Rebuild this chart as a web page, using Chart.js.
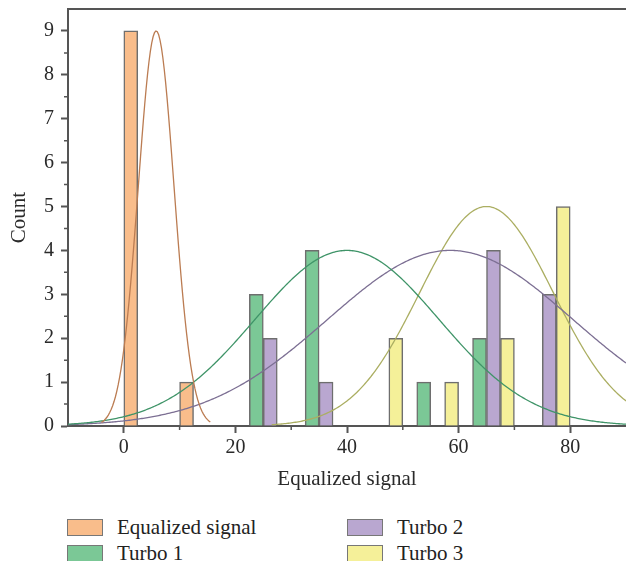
<!DOCTYPE html>
<html>
<head>
<meta charset="utf-8">
<script src="https://cdn.jsdelivr.net/npm/chart.js@4/dist/chart.umd.min.js"></script>
<style>
  body { margin: 0; background: #fff; width: 626px; height: 561px; overflow: hidden; font-family: "Liberation Serif", serif; }
  #wrap { position: relative; width: 626px; height: 500px; }
  #legend { position: relative; width: 626px; height: 61px; }
  .item { position: absolute; display: flex; align-items: center; font-size: 21px; color: #222; line-height: 17px; }
  .swatch { box-sizing: border-box; width: 36px; height: 17px; border: 1.5px solid #777; margin-right: 14px; }
</style>
</head>
<body>
<div id="wrap"><canvas id="chart" width="626" height="500"></canvas></div>
<div id="legend"></div>
<script>
// histogram bins (centre of each 10-wide bin)
const binCenters = [5, 15, 25, 35, 45, 55, 65, 75];
const seriesNames = ["Equalized signal", "Turbo 1", "Turbo 2", "Turbo 3"];
const equalizedCounts = [9, 1, null, null, null, null, null, null];
const turbo1Counts = [null, null, 3, 4, null, 1, 2, null];
const turbo2Counts = [null, null, 2, 1, null, null, 4, 3];
const turbo3Counts = [null, null, null, null, 2, 1, 2, 5];

// normal fit curves: mean, sd, peak, drawn range
const fitMean = [5.8, 40, 58.5, 65];
const fitSd = [3.2, 16.5, 22, 12];
const fitPeak = [9, 4, 4, 5];
const fitFrom = [-4, -10, -10, 26.5];
const fitTo = [15.5, 90, 90, 90];

const xTicks = [0, 20, 40, 60, 80];
const xMinorTicks = [10, 30, 50, 70];
const yTicks = [0, 1, 2, 3, 4, 5, 6, 7, 8, 9];
const yMinorTicks = [0.5, 1.5, 2.5, 3.5, 4.5, 5.5, 6.5, 7.5, 8.5];

const fillColors = ["#f9bd8b", "#7bc896", "#b9a7d0", "#f5f099"];
const lineColors = ["#bb7c52", "#3f9468", "#7c6f93", "#abae62"];

const counts = [equalizedCounts, turbo1Counts, turbo2Counts, turbo3Counts];
const axisColor = "#555";
const textColor = "#2a2a2a";
const font = { family: "Liberation Serif", size: 20 };
const titleFont = { family: "Liberation Serif", size: 21 };

function fitPoints(i) {
  const pts = [];
  for (let x = fitFrom[i]; x <= fitTo[i] + 1e-9; x += 0.25) {
    const z = (x - fitMean[i]) / fitSd[i];
    pts.push({ x: x, y: fitPeak[i] * Math.exp(-0.5 * z * z) });
  }
  return pts;
}

const datasets = [];
counts.forEach((c, i) => {
  datasets.push({
    type: "bar",
    label: seriesNames[i],
    data: binCenters.map((x, k) => ({ x: x, y: c[k] })),
    backgroundColor: fillColors[i],
    borderColor: "#6e6e6e",
    borderWidth: 1.5,
    barPercentage: 1,
    categoryPercentage: 1,
    order: 2,
  });
});
counts.forEach((c, i) => {
  datasets.push({
    type: "line",
    label: seriesNames[i] + " fit",
    data: fitPoints(i),
    borderColor: lineColors[i],
    borderWidth: 1.3,
    pointRadius: 0,
    tension: 0,
    order: 1,
  });
});

// minor ticks + top frame line
const minorTicks = {
  id: "minorTicks",
  afterDraw(chart) {
    const { ctx, chartArea, scales } = chart;
    ctx.save();
    ctx.strokeStyle = axisColor;
    ctx.lineWidth = 1.5;
    ctx.beginPath();
    xMinorTicks.forEach((v) => {
      const px = scales.x.getPixelForValue(v);
      ctx.moveTo(px, chartArea.bottom);
      ctx.lineTo(px, chartArea.bottom + 4);
    });
    yMinorTicks.forEach((v) => {
      const py = scales.y.getPixelForValue(v);
      ctx.moveTo(chartArea.left, py);
      ctx.lineTo(chartArea.left - 4, py);
    });
    ctx.stroke();
    ctx.lineWidth = 2;
    ctx.beginPath();
    ctx.moveTo(chartArea.left, chartArea.top);
    ctx.lineTo(chartArea.right, chartArea.top);
    ctx.stroke();
    ctx.restore();
  },
};

new Chart(document.getElementById("chart"), {
  type: "bar",
  data: { datasets: datasets },
  options: {
    responsive: false,
    animation: false,
    layout: { padding: { top: 9, right: 0, left: 0, bottom: 0 } },
    plugins: { legend: { display: false }, tooltip: { enabled: false } },
    scales: {
      x: {
        type: "linear",
        min: -10,
        max: 90,
        offset: false,
        afterBuildTicks: (s) => { s.ticks = xTicks.map((v) => ({ value: v })); },
        afterFit: (s) => { s.height = 74; s.paddingLeft = 0; s.paddingRight = 0; },
        grid: { drawOnChartArea: false, offset: false, tickLength: 7, tickWidth: 2, tickColor: axisColor },
        border: { color: axisColor, width: 2 },
        ticks: { font: font, color: textColor, padding: 3, maxRotation: 0 },
        title: { display: true, text: "Equalized signal", font: titleFont, color: textColor, padding: { top: 0, bottom: 8 } },
      },
      y: {
        min: 0,
        max: 9.5,
        afterBuildTicks: (s) => { s.ticks = yTicks.map((v) => ({ value: v })); },
        afterFit: (s) => { s.width = 68; s.paddingTop = 0; s.paddingBottom = 0; },
        grid: { drawOnChartArea: false, tickLength: 7, tickWidth: 2, tickColor: axisColor },
        border: { color: axisColor, width: 2 },
        ticks: { font: font, color: textColor, padding: 7 },
        title: { display: true, text: "Count", font: titleFont, color: textColor, padding: { top: 7, bottom: 0 } },
      },
    },
  },
  plugins: [minorTicks],
});

// legend laid out in two columns like the original
const legendPos = [
  { left: 67, top: 19 },
  { left: 67, top: 45 },
  { left: 347, top: 19 },
  { left: 347, top: 45 },
];
const legendEl = document.getElementById("legend");
seriesNames.forEach((name, i) => {
  const item = document.createElement("div");
  item.className = "item";
  item.style.left = legendPos[i].left + "px";
  item.style.top = legendPos[i].top + "px";
  item.innerHTML = `<span class="swatch" style="background:${fillColors[i]}"></span><span>${name}</span>`;
  legendEl.appendChild(item);
});
</script>
</body>
</html>
